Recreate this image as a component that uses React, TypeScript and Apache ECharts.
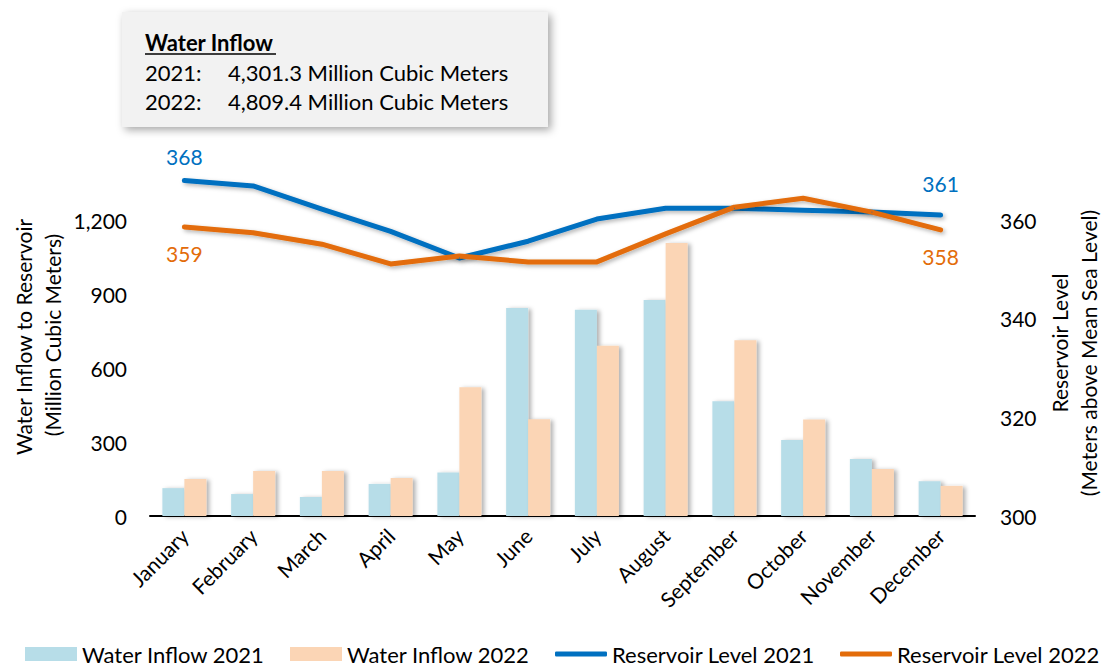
import React, { useEffect, useRef } from "react";
import * as echarts from "echarts";

const months = ["January", "February", "March", "April", "May", "June", "July", "August", "September", "October", "November", "December"];
const inflow2021 = [113, 89, 77, 130, 176, 843, 836, 876, 465, 308, 231, 141];
const inflow2022 = [150, 182, 182, 154, 522, 392, 690, 1107, 713, 391, 191, 122];
const level2021 = [368, 366.9, 362.2, 357.7, 352.3, 355.7, 360.2, 362.4, 362.4, 362.0, 361.6, 361.0];
const level2022 = [358.6, 357.4, 355.1, 351.1, 352.7, 351.5, 351.5, 357.2, 362.6, 364.4, 361.6, 358.0];
const seriesNames = ["Water Inflow 2021", "Water Inflow 2022", "Reservoir Level 2021", "Reservoir Level 2022"];
const boxTitle = "Water Inflow";
const boxLines = [
  ["2021:", "4,301.3 Million Cubic Meters"],
  ["2022:", "4,809.4 Million Cubic Meters"],
];
const leftTitle = ["Water Inflow to Reservoir", "(Million Cubic Meters)"];
const rightTitle = ["Reservoir Level", "(Meters above Mean Sea Level)"];

const FONT = "Lato";
const C_BAR21 = "#B7DDE8";
const C_BAR22 = "#FBD5B5";
const C_LINE21 = "#0070C0";
const C_LINE22 = "#E36C09";

export default function App() {
  const ref = useRef<HTMLDivElement>(null);
  useEffect(() => {
    if (!ref.current) return;
    const chart = echarts.init(ref.current, null, { renderer: "svg" });
    const lastIdx = months.length - 1;
    const barShadow = { shadowBlur: 4, shadowOffsetX: 3, shadowOffsetY: 1, shadowColor: "rgba(0,0,0,0.3)" };
    const lineShadow = { shadowBlur: 4, shadowOffsetX: 2, shadowOffsetY: 2, shadowColor: "rgba(0,0,0,0.3)" };
    const legendBase = (name: string, left: number, color: string, isLine: boolean) => ({
      data: [{ name, itemStyle: { color } }],
      left,
      top: 643,
      padding: 0,
      icon: isLine ? "roundRect" : "rect",
      itemWidth: 52,
      itemHeight: isLine ? 5 : 14,
      textStyle: { fontFamily: FONT, fontSize: 22, color: "#000" },
      selectedMode: false,
    });
    chart.setOption({
      animation: false,
      textStyle: { fontFamily: FONT },
      grid: { left: 150, right: 126, top: 146, bottom: 152, containLabel: false },
      legend: [
        legendBase(seriesNames[0], 25, C_BAR21, false),
        legendBase(seriesNames[1], 290, C_BAR22, false),
        legendBase(seriesNames[2], 555, C_LINE21, true),
        legendBase(seriesNames[3], 840, C_LINE22, true),
      ],
      xAxis: {
        type: "category",
        data: months,
        axisLine: { lineStyle: { color: "#000", width: 2 } },
        axisTick: { show: false },
        axisLabel: { rotate: 45, fontSize: 21, fontFamily: FONT, color: "#000", margin: 16, interval: 0 },
      },
      yAxis: [
        {
          type: "value",
          min: 0,
          max: 1500,
          interval: 300,
          splitLine: { show: false },
          axisLine: { show: false },
          axisTick: { show: false },
          axisLabel: {
            fontSize: 21,
            fontFamily: FONT,
            color: "#000",
            margin: 23,
            showMaxLabel: false,
            formatter: (v: number) => v.toLocaleString("en-US"),
          },
        },
        {
          type: "value",
          min: 300,
          max: 375,
          interval: 20,
          splitLine: { show: false },
          axisLine: { show: false },
          axisTick: { show: false },
          axisLabel: { fontSize: 21, fontFamily: FONT, color: "#000", margin: 25, showMaxLabel: false },
        },
      ],
      series: [
        {
          name: seriesNames[0],
          type: "bar",
          data: inflow2021,
          barWidth: 22,
          barGap: "0%",
          itemStyle: { color: C_BAR21, ...barShadow },
          z: 2,
        },
        {
          name: seriesNames[1],
          type: "bar",
          data: inflow2022,
          barWidth: 22,
          barGap: "0%",
          itemStyle: { color: C_BAR22, ...barShadow },
          z: 2,
        },
        {
          name: seriesNames[2],
          type: "line",
          yAxisIndex: 1,
          data: level2021.map((v, i) => ({
            value: v,
            label: { show: i === 0 || i === lastIdx, distance: i === lastIdx ? 21 : 13 },
          })),
          symbol: "circle",
          symbolSize: 1,
          itemStyle: { color: C_LINE21 },
          lineStyle: { color: C_LINE21, width: 5, cap: "round", join: "round", ...lineShadow },
          label: {
            position: "top",
            distance: 13,
            color: C_LINE21,
            fontSize: 21,
            fontFamily: FONT,
            formatter: (p: any) => String(Math.round(p.value)),
          },
          z: 5,
        },
        {
          name: seriesNames[3],
          type: "line",
          yAxisIndex: 1,
          data: level2022.map((v, i) => ({ value: v, label: { show: i === 0 || i === lastIdx } })),
          symbol: "circle",
          symbolSize: 1,
          itemStyle: { color: C_LINE22 },
          lineStyle: { color: C_LINE22, width: 5, cap: "round", join: "round", ...lineShadow },
          label: {
            position: "bottom",
            distance: 16,
            color: C_LINE22,
            fontSize: 21,
            fontFamily: FONT,
            formatter: (p: any) => String(Math.round(p.value)),
          },
          z: 5,
        },
      ],
      graphic: [
        {
          type: "rect",
          shape: { x: 122, y: 12, width: 426, height: 115 },
          style: { fill: "#F2F2F2", shadowBlur: 8, shadowOffsetX: 3, shadowOffsetY: 3, shadowColor: "rgba(0,0,0,0.35)" },
          z: 10,
        },
        {
          type: "text",
          x: 145,
          y: 42,
          style: { text: boxTitle, font: `bold 22px ${FONT}`, fill: "#000", textVerticalAlign: "middle" },
          z: 11,
        },
        { type: "line", shape: { x1: 145, y1: 54, x2: 276, y2: 54 }, style: { stroke: "#000", lineWidth: 1.5 }, z: 11 },
        ...boxLines.flatMap((row, i) => [
          {
            type: "text",
            x: 145,
            y: 72 + i * 29,
            style: { text: row[0], font: `22px ${FONT}`, fill: "#000", textVerticalAlign: "middle" },
            z: 11,
          },
          {
            type: "text",
            x: 228,
            y: 72 + i * 29,
            style: { text: row[1], font: `22px ${FONT}`, fill: "#000", textVerticalAlign: "middle" },
            z: 11,
          },
        ]),
        {
          type: "text",
          x: 23,
          y: 337,
          rotation: Math.PI / 2,
          style: { text: leftTitle[0], font: `21px ${FONT}`, fill: "#000", textAlign: "center", textVerticalAlign: "middle" },
        },
        {
          type: "text",
          x: 52,
          y: 335,
          rotation: Math.PI / 2,
          style: { text: leftTitle[1], font: `21px ${FONT}`, fill: "#000", textAlign: "center", textVerticalAlign: "middle" },
        },
        {
          type: "text",
          x: 1059,
          y: 343,
          rotation: Math.PI / 2,
          style: { text: rightTitle[0], font: `21px ${FONT}`, fill: "#000", textAlign: "center", textVerticalAlign: "middle" },
        },
        {
          type: "text",
          x: 1088,
          y: 353,
          rotation: Math.PI / 2,
          style: { text: rightTitle[1], font: `21px ${FONT}`, fill: "#000", textAlign: "center", textVerticalAlign: "middle" },
        },
      ],
    });
    return () => chart.dispose();
  }, []);
  return <div ref={ref} style={{ width: 1101, height: 668, position: "absolute", left: 0, top: 0 }} />;
}
